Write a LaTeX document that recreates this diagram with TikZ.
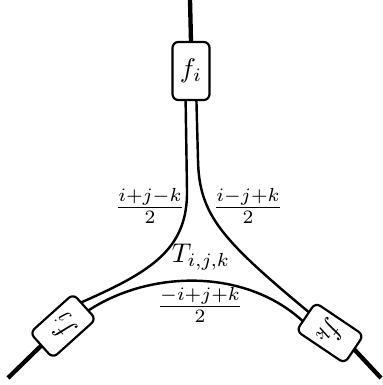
\documentclass[tikz,border=0pt]{standalone}
\usepackage{amsmath,amssymb}
\usetikzlibrary{calc}
\tikzset{projbox/.style={draw, line width=0.8pt, rounded corners=2.2pt, inner sep=0pt, outer sep=0pt, minimum width=13.7pt, minimum height=21.5pt}}
\tikzset{wire/.style={line width=1.6pt}}
\tikzset{strand/.style={line width=0.9pt}}

\begin{document}
\begin{tikzpicture}[x=0.13mm, y=-0.13mm]
    \useasboundingbox (0,0) rectangle (382,385);
    \node[projbox] (fi) at (191,71) {$f_i$};
    \node[projbox, minimum width=12.6pt, minimum height=21.5pt, rotate=132] (fj) at (63,326) {$f_j$};
    \node[projbox, minimum width=12.6pt, minimum height=21.5pt, rotate=-124] (fk) at (330,333) {$f_k$};
    \coordinate (itop) at (190,0);
    \coordinate (jend) at (8,378);
    \coordinate (kend) at (381,378);
    \draw[wire] (fi.north) -- (itop);
    \draw[wire] (fj.north) -- (jend);
    \draw[wire] (fk.north) -- (kend);
    \draw[strand] ($(fi.south)!2pt!(fi.south west)$) -- (187,190) .. controls (188,250) and (150,272) .. ($(fj.south)!2pt!(fj.south east)$);
    \draw[strand] ($(fi.south)!2pt!(fi.south east)$) -- (198,160) .. controls (199,215) and (222,240) .. ($(fk.south)!2pt!(fk.south west)$);
    \draw[strand] ($(fj.south)!2pt!(fj.south west)$) .. controls (150,270) and (245,268) .. ($(fk.south)!2pt!(fk.south east)$);
    \node (T) at (201,257) {$T_{i,j,k}$};
    \node (ij) at (150,206) {$\frac{i+j-k}{2}$};
    \node (ik) at (248,206) {$\frac{i-j+k}{2}$};
    \node (jk) at (200,305) {$\frac{-i+j+k}{2}$};
\end{tikzpicture}
\end{document}
